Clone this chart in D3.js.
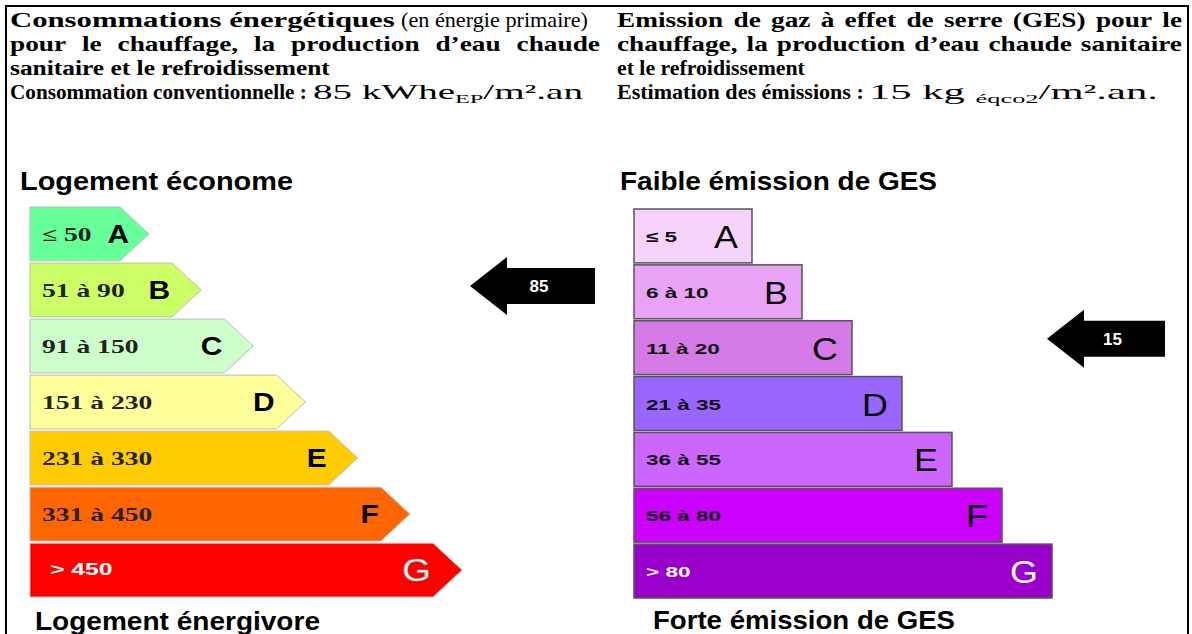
<!DOCTYPE html>
<html>
<head>
<meta charset="utf-8">
<script src="https://cdn.jsdelivr.net/npm/d3@7"></script>
<style>
  body { margin: 0; background: #fff; }
  svg { display: block; }
  .serif { font-family: "Liberation Serif", "Times New Roman", serif; }
  .sans { font-family: Arial, "Liberation Sans", sans-serif; }
</style>
</head>
<body>
<div id="page"></div>
<script>
// energy classes (kWhEP/m².an)
var energyClasses = ["A", "B", "C", "D", "E", "F", "G"];
var energyRanges = ["≤ 50", "51 à 90", "91 à 150", "151 à 230", "231 à 330", "331 à 450", "> 450"];
var energyUpper = [50, 90, 150, 230, 330, 450, Infinity];
var energyColors = ["#66ff99", "#ccff66", "#ccffcc", "#ffff99", "#ffcc00", "#ff6600", "#ff0000"];
var energyValue = 85;

// GES classes (kg éqCO2/m².an)
var gesClasses = ["A", "B", "C", "D", "E", "F", "G"];
var gesRanges = ["≤ 5", "6 à 10", "11 à 20", "21 à 35", "36 à 55", "56 à 80", "> 80"];
var gesUpper = [5, 10, 20, 35, 55, 80, Infinity];
var gesColors = ["#f5d3fa", "#e8a2f6", "#d67ae8", "#9966ff", "#cc66ff", "#cc00ff", "#9900cc"];
var gesValue = 15;

var width = 1192, height = 634;

var svg = d3.select("#page")
  .append("svg")
  .attr("width", width)
  .attr("height", height);

// stretch a text horizontally by factor k (the original picture is wide)
function stretch(sel, k) {
  sel.each(function() {
    var w = this.getComputedTextLength();
    d3.select(this)
      .attr("textLength", w * k)
      .attr("lengthAdjust", "spacingAndGlyphs");
  });
}

// ---------- header text ----------
var head = svg.append("g").attr("class", "serif").style("font-size", "21px");

// a run of text squeezed / stretched to fit between x[0] and x[1]
function segment(g, seg, y) {
  var gs = g.append("g");
  var t = gs.append("text")
    .style("font-weight", seg.bold ? "bold" : "normal");
  t.append("tspan").text(seg.t);
  if (seg.sub) {
    t.append("tspan").attr("dy", 4).style("font-size", "13px").text(seg.sub);
    t.append("tspan").attr("dy", -4).text(seg.after);
  }
  var w = t.node().getComputedTextLength();
  var k = (seg.x[1] - seg.x[0]) / w;
  gs.attr("transform", "translate(" + seg.x[0] + "," + y + ") scale(" + k + ",1)");
}

function justified(g, words, x0, x1, y, k) {
  var ts = words.map(function(w) {
    return g.append("text").attr("y", y).style("font-weight", "bold").text(w);
  });
  var ws = ts.map(function(t) { return t.node().getComputedTextLength() * k; });
  var gap = (x1 - x0 - d3.sum(ws)) / (words.length - 1);
  var x = x0;
  ts.forEach(function(t, i) {
    t.attr("x", x).attr("textLength", ws[i]).attr("lengthAdjust", "spacingAndGlyphs");
    x += ws[i] + gap;
  });
}

var lineY = [27, 51, 75, 99];

segment(head, {t: "Consommations énergétiques", bold: true, x: [10, 395]}, lineY[0]);
segment(head, {t: "(en énergie primaire)", bold: false, x: [401, 588]}, lineY[0]);
justified(head, "pour le chauffage, la production d’eau chaude".split(" "), 10, 600, lineY[1], 1.3);
segment(head, {t: "sanitaire et le refroidissement", bold: true, x: [10, 330]}, lineY[2]);
segment(head, {t: "Consommation conventionnelle :", bold: true, x: [10, 307]}, lineY[3]);
segment(head, {t: energyValue + " kWhe", sub: "EP", after: "/m².an", bold: false, x: [313, 583]}, lineY[3]);

justified(head, "Emission de gaz à effet de serre (GES) pour le".split(" "), 617, 1182, lineY[0], 1.3);
justified(head, "chauffage, la production d’eau chaude sanitaire".split(" "), 617, 1182, lineY[1], 1.3);
segment(head, {t: "et le refroidissement", bold: true, x: [617, 805]}, lineY[2]);
segment(head, {t: "Estimation des émissions :", bold: true, x: [617, 864]}, lineY[3]);
segment(head, {t: gesValue + " kg ", sub: "éqco2", after: "/m².an.", bold: false, x: [869, 1158]}, lineY[3]);

// outer frame (left, top, right)
svg.append("path")
  .attr("d", "M6," + height + "V6H1188V" + height)
  .attr("fill", "none")
  .attr("stroke", "#000")
  .attr("stroke-width", 2);

function classIndex(upper, v) {
  return d3.bisectLeft(upper, v);
}

function arrow(g, x, yc, len, label) {
  var headLen = 37, headH = 29, bodyH = 18;
  var pts = [[x, yc], [x + headLen, yc - headH], [x + headLen, yc - bodyH],
             [x + len, yc - bodyH], [x + len, yc + bodyH], [x + headLen, yc + bodyH],
             [x + headLen, yc + headH]];
  g.append("path")
    .attr("d", d3.line()(pts) + "Z")
    .attr("fill", "#000");
  g.append("text")
    .attr("class", "sans")
    .attr("x", x + headLen + (len - headLen) / 2 - 12)
    .attr("y", yc + 6)
    .attr("text-anchor", "middle")
    .attr("fill", "#fff")
    .style("font-weight", "bold")
    .style("font-size", "17px")
    .text(label);
}

// ---------- energy label ----------
var ey = d3.scaleBand()
  .domain(energyClasses)
  .range([207, 597])
  .paddingInner(0.04);
var ew = d3.scaleLinear()
  .domain([0, energyClasses.length - 1])
  .range([90, 403]);
var ex0 = 30, tip = 29;

var eg = svg.append("g");
var eRows = eg.selectAll(".erow")
  .data(energyClasses)
  .enter()
  .append("g")
  .attr("class", "erow");

eRows.append("path")
  .attr("d", function(d, i) {
    var y0 = ey(d), h = ey.bandwidth(), x1 = ex0 + ew(i);
    return d3.line()([[ex0, y0], [x1, y0], [x1 + tip, y0 + h / 2], [x1, y0 + h], [ex0, y0 + h]]) + "Z";
  })
  .attr("fill", function(d, i) { return energyColors[i]; })
  .attr("stroke", "#bbb")
  .attr("stroke-width", 1);

eRows.append("text")
  .attr("class", function(d, i) { return i == 6 ? "sans" : "serif"; })
  .attr("x", function(d, i) { return i == 6 ? 50 : 42; })
  .attr("y", function(d, i) { return ey(d) + ey.bandwidth() / 2 + (i == 6 ? 5 : 7); })
  .attr("fill", function(d, i) { return i == 6 ? "#fff" : "#222"; })
  .style("font-weight", "bold")
  .style("font-size", function(d, i) { return i == 6 ? "17px" : "19px"; })
  .text(function(d, i) { return energyRanges[i]; })
  .call(stretch, 1.45);

// class letter, the first one sits a little into the tip
eRows.append("text")
  .attr("class", "sans")
  .attr("x", function(d, i) { return ex0 + ew(i) + (i == 0 ? 9 : -2); })
  .attr("y", function(d, i) { return ey(d) + ey.bandwidth() / 2 + (i == 6 ? 11 : 9); })
  .attr("text-anchor", "end")
  .attr("fill", function(d, i) { return i == 6 ? "#fff" : "#000"; })
  .attr("stroke", function(d, i) { return i == 6 ? "#999" : "none"; })
  .attr("stroke-width", 0.6)
  .style("font-weight", function(d, i) { return i == 6 ? "normal" : "bold"; })
  .style("font-size", function(d, i) { return i == 6 ? "32px" : "26px"; })
  .text(function(d) { return d; })
  .call(stretch, 1.15);

var eIdx = classIndex(energyUpper, energyValue);
arrow(eg, 470, ey(energyClasses[eIdx]) + ey.bandwidth() / 2 - 4, 125, energyValue);

// ---------- GES label ----------
var gy = d3.scaleBand()
  .domain(gesClasses)
  .range([209, 598])
  .paddingInner(0.035);
var gw = d3.scaleLinear()
  .domain([0, gesClasses.length - 1])
  .range([118, 418]);
var gx0 = 634;

var gg = svg.append("g");
var gRows = gg.selectAll(".grow")
  .data(gesClasses)
  .enter()
  .append("g")
  .attr("class", "grow");

gRows.append("rect")
  .attr("x", gx0)
  .attr("y", function(d) { return gy(d); })
  .attr("width", function(d, i) { return gw(i); })
  .attr("height", gy.bandwidth())
  .attr("fill", function(d, i) { return gesColors[i]; })
  .attr("stroke", "#555")
  .attr("stroke-width", 1.5);

gRows.append("text")
  .attr("class", "sans")
  .attr("x", 646)
  .attr("y", function(d) { return gy(d) + gy.bandwidth() / 2 + 6; })
  .attr("fill", function(d, i) { return i == 6 ? "#fff" : "#111"; })
  .style("font-weight", "bold")
  .style("font-size", "15px")
  .text(function(d, i) { return gesRanges[i]; })
  .call(stretch, 1.5);

gRows.append("text")
  .attr("class", "sans")
  .attr("x", function(d, i) { return gx0 + gw(i) - 14; })
  .attr("y", function(d) { return gy(d) + gy.bandwidth() / 2 + 12; })
  .attr("text-anchor", "end")
  .attr("fill", function(d, i) { return i == 6 ? "#fff" : "#000"; })
  .style("font-size", "32px")
  .text(function(d) { return d; })
  .call(stretch, 1.12);

var gIdx = classIndex(gesUpper, gesValue);
arrow(gg, 1047, gy(gesClasses[gIdx]) + gy.bandwidth() / 2 - 9, 118, gesValue);

// ---------- captions ----------
var captions = [
  {t: "Logement économe", x: [20, 293], y: 190},
  {t: "Faible émission de GES", x: [620, 937], y: 190},
  {t: "Logement énergivore", x: [35, 320], y: 630},
  {t: "Forte émission de GES", x: [653, 955], y: 629}
];
svg.selectAll(".cap")
  .data(captions)
  .enter()
  .append("text")
  .attr("class", "cap sans")
  .attr("x", function(d) { return d.x[0]; })
  .attr("y", function(d) { return d.y; })
  .attr("textLength", function(d) { return d.x[1] - d.x[0]; })
  .attr("lengthAdjust", "spacingAndGlyphs")
  .style("font-weight", "bold")
  .style("font-size", "26px")
  .text(function(d) { return d.t; });
</script>
</body>
</html>
